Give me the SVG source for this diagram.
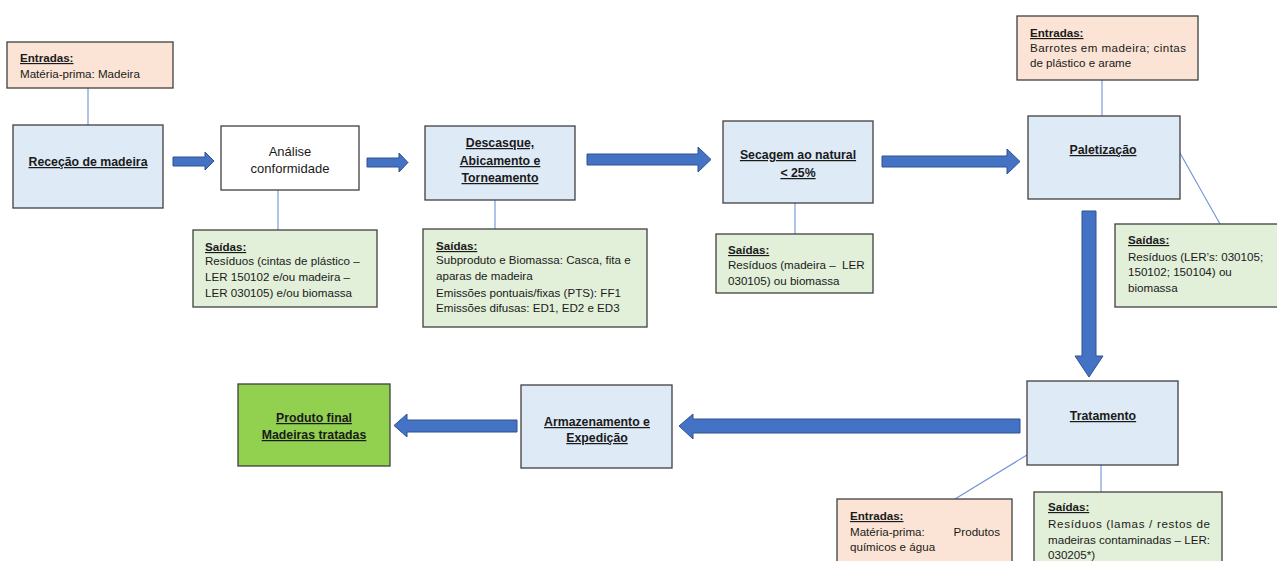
<svg xmlns="http://www.w3.org/2000/svg" width="1277" height="561" viewBox="0 0 1277 561">
<style>
.box{stroke:#3f3f3f;stroke-width:1.3}
.in{fill:#fbe4d5}
.out{fill:#e2efd9}
.proc{fill:#deeaf6}
.white{fill:#ffffff}
.final{fill:#92d050}
.ln{stroke:#6f92d8;stroke-width:1.1;fill:none}
.arr{fill:#4472c4;stroke:#2f528f;stroke-width:1}
text{font-family:"Liberation Sans",Arial,sans-serif;fill:#1a1a1a}
.s{font-size:11.6px}
.sh{font-size:11.6px;font-weight:bold;text-decoration:underline}
.h{font-size:12.3px;font-weight:bold;text-decoration:underline;text-anchor:middle}
.n{font-size:13px;text-anchor:middle}
</style>
<g id="connectors">
<line class="ln" x1="88" y1="88" x2="88" y2="125"/>
<line class="ln" x1="278" y1="190" x2="278" y2="230"/>
<line class="ln" x1="495" y1="200" x2="495" y2="229"/>
<line class="ln" x1="795" y1="203" x2="795" y2="234"/>
<line class="ln" x1="1102" y1="80" x2="1102" y2="116"/>
<line class="ln" x1="1180" y1="153" x2="1220" y2="224"/>
<line class="ln" x1="1027" y1="455" x2="955" y2="499"/>
<line class="ln" x1="1101" y1="465" x2="1101" y2="492"/>
<polygon class="arr" points="173,157 205,157 205,152 214,161 205,170 205,166 173,166"/>
<polygon class="arr" points="367,158 399,158 399,153 408,162.5 399,172 399,167 367,167"/>
<polygon class="arr" points="587,154 698,154 698,147 711,159.5 698,172 698,165 587,165"/>
<polygon class="arr" points="882,156 1007,156 1007,149 1020,161.5 1007,174 1007,167 882,167"/>
<polygon class="arr" points="1082,211 1096,211 1096,356 1103,356 1089,377 1075,356 1082,356"/>
<polygon class="arr" points="1020,419 693,419 693,414 679,426 693,439 693,433 1020,433"/>
<polygon class="arr" points="517,420 407,420 407,414 394,425.5 407,437 407,432 517,432"/>
</g>
<g id="entradas-rececao">
<rect class="box in" x="7" y="42" width="166" height="46"/>
<text class="sh" x="20" y="62">Entradas:</text>
<text class="s" x="20" y="78">Matéria-prima: Madeira</text>
</g>
<g id="rececao">
<rect class="box proc" x="13" y="125" width="150" height="83"/>
<text class="h" x="88" y="166">Receção de madeira</text>
</g>
<g id="analise">
<rect class="box white" x="221" y="126" width="138" height="64"/>
<text class="n" x="290" y="156">Análise</text>
<text class="n" x="290" y="173">conformidade</text>
</g>
<g id="saidas-analise">
<rect class="box out" x="193" y="230" width="184" height="77"/>
<text class="sh" x="205" y="251">Saídas:</text>
<text class="s" x="205" y="265">Resíduos (cintas de plástico –</text>
<text class="s" x="205" y="281">LER 150102 e/ou madeira –</text>
<text class="s" x="205" y="297">LER 030105) e/ou biomassa</text>
</g>
<g id="descasque">
<rect class="box proc" x="425" y="126" width="150" height="74"/>
<text class="h" x="500" y="147">Descasque,</text>
<text class="h" x="500" y="165">Abicamento e</text>
<text class="h" x="500" y="182">Torneamento</text>
</g>
<g id="saidas-descasque">
<rect class="box out" x="423" y="229" width="224" height="98"/>
<text class="sh" x="436" y="250">Saídas:</text>
<text class="s" x="436" y="264">Subproduto e Biomassa: Casca, fita e</text>
<text class="s" x="436" y="280">aparas de madeira</text>
<text class="s" x="436" y="297">Emissões pontuais/fixas (PTS): FF1</text>
<text class="s" x="436" y="312">Emissões difusas: ED1, ED2 e ED3</text>
</g>
<g id="secagem">
<rect class="box proc" x="723" y="121" width="150" height="82"/>
<text class="h" x="798" y="159">Secagem ao natural</text>
<text class="h" x="798" y="177">&lt; 25%</text>
</g>
<g id="saidas-secagem">
<rect class="box out" x="716" y="234" width="157" height="59"/>
<text class="sh" x="728" y="254">Saídas:</text>
<text class="s" x="728" y="269" xml:space="preserve">Resíduos (madeira –  LER</text>
<text class="s" x="728" y="285">030105) ou biomassa</text>
</g>
<g id="entradas-paletizacao">
<rect class="box in" x="1017" y="16" width="181" height="64"/>
<text class="sh" x="1030" y="37">Entradas:</text>
<text class="s" x="1030" y="52" textLength="156" lengthAdjust="spacing">Barrotes em madeira; cintas</text>
<text class="s" x="1030" y="67">de plástico e arame</text>
</g>
<g id="paletizacao">
<rect class="box proc" x="1028" y="116" width="152" height="83"/>
<text class="h" x="1103" y="154">Paletização</text>
</g>
<g id="saidas-paletizacao">
<rect class="box out" x="1115" y="224" width="170" height="83"/>
<text class="sh" x="1128" y="244">Saídas:</text>
<text class="s" x="1128" y="261">Resíduos (LER’s: 030105;</text>
<text class="s" x="1128" y="276">150102; 150104) ou</text>
<text class="s" x="1128" y="292">biomassa</text>
</g>
<g id="tratamento">
<rect class="box proc" x="1027" y="381" width="151" height="84"/>
<text class="h" x="1103" y="420">Tratamento</text>
</g>
<g id="entradas-tratamento">
<rect class="box in" x="837" y="499" width="175" height="70"/>
<text class="sh" x="850" y="520">Entradas:</text>
<text class="s" x="850" y="536">Matéria-prima:</text>
<text class="s" x="1000" y="536" text-anchor="end">Produtos</text>
<text class="s" x="850" y="551">químicos e água</text>
</g>
<g id="saidas-tratamento">
<rect class="box out" x="1034" y="492" width="188" height="77"/>
<text class="sh" x="1048" y="511">Saídas:</text>
<text class="s" x="1048" y="528" textLength="162" lengthAdjust="spacing">Resíduos (lamas / restos de</text>
<text class="s" x="1048" y="544" textLength="162" lengthAdjust="spacing">madeiras contaminadas – LER:</text>
<text class="s" x="1048" y="559">030205*)</text>
</g>
<g id="armazenamento">
<rect class="box proc" x="521" y="385" width="151" height="83"/>
<text class="h" x="597" y="426">Armazenamento e</text>
<text class="h" x="597" y="442">Expedição</text>
</g>
<g id="produto-final">
<rect class="box final" x="238" y="384" width="152" height="82"/>
<text class="h" x="314" y="422">Produto final</text>
<text class="h" x="314" y="439">Madeiras tratadas</text>
</g>
</svg>
